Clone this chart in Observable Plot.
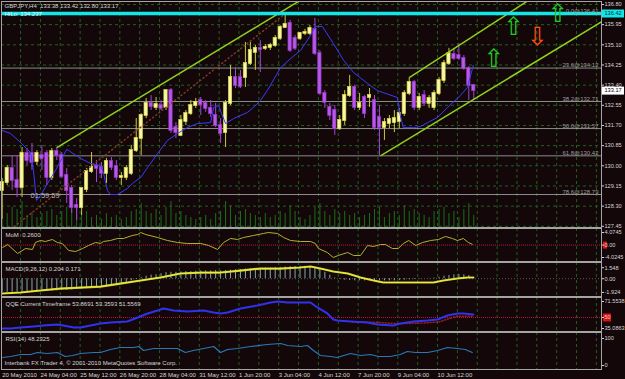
<!DOCTYPE html>
<html>
<head>
<meta charset="utf-8">
<script src="https://cdn.jsdelivr.net/npm/d3@7"></script>
<script src="https://cdn.jsdelivr.net/npm/@observablehq/plot@0.6"></script>
<style>
html,body{margin:0;padding:0;background:#130709;}
#chart{position:relative;width:625px;height:379px;background:#130709;overflow:hidden;}
#chart svg{position:absolute;left:0;}
</style>
</head>
<body>
<div id="chart"></div>
<script>
// ================= DATA =================
const symbolTitle = "GBPJPY,H4";
const lastQuote = [133.38, 133.42, 132.80, 133.17];
const hiloText = "HiLo: 134.237";
const timerText = "01:59:59";
const timerPos = [5.7, 128.75];

const opens  = [128.96,129.29,129.89,129.38,129.08,130.52,130.52,130.18,130.43,130.52,
                129.51,130.60,130.43,129.59,129.04,128.33,128.24,129.00,129.76,129.97,
                129.93,129.68,130.18,129.97,129.51,129.51,129.68,130.64,131.15,132.12,
                132.63,132.46,132.54,132.46,133.17,131.61,131.28,131.87,132.20,132.54,
                132.75,132.63,132.42,132.12,131.70,131.40,132.63,133.72,133.72,133.72,
                134.31,134.78,134.95,134.95,134.99,135.07,135.37,135.83,136.00,135.37,
                135.37,135.58,135.58,135.75,134.73,133.05,132.46,132.33,131.57,131.91,
                132.96,133.30,132.46,132.88,132.88,132.75,132.04,131.61,131.78,131.82,
                131.87,132.20,133.05,133.51,132.46,132.96,132.63,132.46,133.05,133.60,
                134.31,134.69,134.65,134.52,134.10,133.38];
const highs  = [129.46,130.01,130.43,130.43,130.77,130.73,130.94,130.64,130.86,130.64,
                130.73,130.77,130.56,129.89,129.17,128.62,129.04,129.89,130.56,130.22,
                130.14,130.31,130.35,130.22,129.72,130.01,130.86,131.99,132.20,132.84,
                132.96,132.88,132.75,133.17,133.26,131.82,132.12,132.33,132.75,132.84,
                132.88,132.75,132.75,132.63,131.99,132.75,134.23,134.14,134.02,135.20,
                135.20,135.07,135.28,135.11,135.16,135.49,135.91,136.42,136.13,135.49,
                135.62,135.75,135.91,136.21,134.86,133.17,132.63,132.54,132.12,133.17,
                133.81,133.39,133.05,132.96,133.26,132.96,132.54,131.99,132.12,132.33,
                132.42,133.17,133.72,133.60,133.05,133.17,132.96,133.17,133.72,134.44,
                134.95,134.95,135.16,134.65,134.18,133.42];
const lows   = [127.75,129.17,128.96,128.66,128.66,130.01,129.80,130.01,129.80,129.17,
                129.38,130.22,129.46,128.41,127.99,127.69,127.90,128.87,129.68,129.29,
                129.46,129.25,129.80,129.38,129.17,129.38,129.59,130.56,130.43,131.99,
                132.33,132.33,132.33,132.33,131.36,131.15,131.23,131.70,132.12,132.42,
                132.12,132.25,132.04,131.61,130.94,130.77,132.54,133.26,133.26,133.30,
                134.23,134.02,133.93,134.86,134.86,134.99,135.28,135.79,134.78,134.86,
                135.28,135.49,135.49,134.65,132.96,132.42,131.91,131.28,131.49,131.70,
                132.88,132.33,132.33,131.99,132.46,131.49,130.42,131.07,131.57,131.40,
                131.57,132.08,132.96,132.33,132.33,132.50,132.42,132.33,132.96,133.47,
                134.23,134.44,134.44,134.02,132.75,132.80];
const closes = [129.29,129.89,129.38,129.08,130.52,130.22,130.14,130.52,130.31,129.51,
                130.60,130.43,129.55,128.96,128.24,128.24,129.04,129.76,129.93,129.89,
                129.68,130.18,129.93,129.51,129.55,129.89,130.64,131.15,132.12,132.63,
                132.50,132.58,132.42,133.17,131.49,131.40,131.91,132.20,132.54,132.67,
                132.58,132.42,132.20,131.70,131.36,132.63,133.72,133.39,133.34,134.31,
                134.86,134.95,134.90,134.99,135.07,135.37,135.83,135.96,134.86,134.95,
                135.58,135.62,135.79,134.73,133.05,132.67,132.12,131.57,131.91,132.96,
                133.30,132.46,132.63,132.20,132.96,131.61,131.61,131.82,131.95,131.99,
                132.20,133.05,133.51,132.46,132.88,132.63,132.84,133.05,133.60,134.31,
                134.73,134.52,134.52,134.10,133.39,133.17];
const volumes = [1000,1400,2000,1800,2600,1200,1500,1000,1400,1600,
                 1800,1200,1600,2000,1800,2200,1400,1600,1000,1200,
                 800,1400,1000,1200,800,1000,1600,1800,2400,1600,
                 1400,1800,1200,2000,2600,1400,1600,1200,1000,800,
                 1000,1200,800,1400,1600,2600,2200,1200,1600,1800,
                 1400,1200,1000,1400,1000,1200,1600,1400,2200,1600,
                 1000,800,1200,2000,2400,1600,1200,1800,1400,1600,
                 1200,1400,1000,1200,1400,1800,2000,1000,1400,1600,
                 1200,2200,1600,1800,1400,1200,1000,1600,1800,2000,
                 1400,1600,1000,1800,2400,1200];
// blue moving average: [bar, price]
const maPoints = [[0,131.49],[1.7,131.36],[3.7,130.98],[5.7,130.56],[6.3,129.80],[6.9,128.54],[7.7,128.75],
  [10.7,129.80],[13.0,130.69],[13.4,130.64],[15.8,130.31],[17.8,130.10],[19.8,130.01],[20.4,129.72],
  [21.2,128.96],[21.8,128.79],[23.2,128.79],[25.2,129.04],[26.5,129.30],[27.9,129.51],[29.3,129.93],
  [31.3,130.52],[33.3,131.07],[35.3,131.36],[37.3,131.61],[39.3,131.78],[42.0,131.82],[42.6,132.46],
  [43.6,132.54],[44.2,132.20],[45.0,131.78],[46.6,131.99],[49.4,132.25],[50.6,132.46],[52.0,132.75],
  [53.4,133.17],[56.1,134.14],[58.1,134.52],[60.1,134.86],[62.1,135.49],[63.1,135.87],[64.5,135.87],
  [66.7,135.16],[68.8,134.44],[70.8,133.93],[73.6,133.47],[75.6,133.17],[79.6,132.88],[80.2,132.12],
  [80.8,131.61],[82.9,131.61],[84.3,131.66],[85.7,131.82],[87.7,132.04],[89.7,132.46],[92.3,132.96],
  [93.7,133.30],[94.9,134.23]];

const priceTicks = [136.80,135.95,135.10,134.25,133.40,132.55,131.70,130.85,130.00,129.15,128.30,127.45];
const fibLevels = ["0.0","23.6","38.2","50.0","61.8","78.6"];
const fibPrices = [136.41,134.12,132.71,131.57,130.42,128.79];
const fibAnchors = [{bar:-2, price:126.71},{bar:57, price:136.41}];
const hLinePrice = 136.42;
const trendLines = [
  {x1:11,   y1:130.77, x2:59.7,   y2:136.93},
  {x1:82,   y1:133.72, x2:105.7,  y2:136.93},
  {x1:76.2, y1:130.42, x2:120.73, y2:136.07}
];
const arrowBars = [99.0, 103.0, 107.8, 111.9];
const arrowPrices = [134.52, 135.83, 135.41, 136.38];
const arrowDirs = ["up","up","down","up"];

const xLabels = ["20 May 2010","24 May 04:00","25 May 12:00","26 May 20:00","28 May 04:00","31 May 12:00",
                 "1 Jun 20:00","3 Jun 04:00","4 Jun 12:00","7 Jun 20:00","9 Jun 04:00","10 Jun 12:00"];
const xLabelBars = [0,7.7,15.7,23.7,31.7,39.7,47.7,55.7,63.7,71.7,79.7,87.7];

// Momentum
const momTitle = "MoM\u00a0\u00a00.2600";
const momPoints = [[0.1,-0.78],[1.1,0.19],[3.1,-2.73],[4.7,-1.11],[6.1,-1.43],[6.7,0.84],[7.7,1.48],[8.7,1.16],
  [10.1,1.81],[11.1,0.84],[12.1,0.51],[13.4,-1.76],[14.8,-2.08],[16.2,-1.11],[17.4,-0.14],[18.8,0.84],
  [19.8,0.51],[20.4,1.16],[21.8,1.48],[23.2,2.13],[24.4,2.13],[26.2,3.10],[27.3,3.43],[27.9,4.07],
  [28.9,3.43],[31.3,2.45],[33.3,1.48],[35.3,0.84],[37.3,0.51],[40.0,0.51],[41.6,-0.14],[43.4,-1.43],
  [44.6,0.84],[46.0,2.13],[47.4,1.81],[48.6,2.45],[50.6,3.10],[52.6,3.75],[53.6,4.07],[55.5,3.75],
  [56.7,2.45],[58.1,1.48],[60.1,1.16],[62.1,1.16],[63.1,0.51],[63.7,-1.11],[65.5,-2.40],[66.7,-4.02],
  [67.7,-3.37],[69.6,-2.40],[70.8,-3.37],[72.2,-3.37],[73.6,-0.14],[74.8,-0.46],[76.2,0.19],[77.2,0.19],
  [78.6,-1.11],[79.8,-1.11],[80.8,0.51],[81.9,1.48],[83.3,-0.14],[84.7,0.84],[86.3,1.48],[87.9,1.81],
  [89.3,2.78],[90.7,2.13],[91.7,1.48],[92.9,2.13],[93.9,0.84],[94.7,0.26]];
const momTicks = [4.0745, 0, -4.0245];
const momTickLabels = ["4.0745","0.00","-4.0245"];

// MACD
const macdTitle = "MACD(9,26,12) 0.204 0.171";
const macdMain = [-1.92,-1.92,-1.9,-1.9,-1.88,-1.86,-1.84,-1.8,
  -1.76,-1.74,-1.72,-1.7,-1.66,-1.62,-1.58,-1.52,
  -1.46,-1.4,-1.34,-1.28,-1.2,-1.12,-1.02,-0.9,
  -0.7,-0.5,-0.3,-0.1,0.15,0.35,0.5,0.55,
  0.7,0.85,0.9,0.9,0.95,1.0,1.0,1.05,
  1.1,1.1,1.1,1.15,1.1,1.15,1.2,1.25,
  1.3,1.35,1.4,1.4,1.45,1.5,1.5,1.55,
  1.6,1.65,1.7,1.7,1.75,1.75,1.7,1.6,
  1.3,0.9,0.5,0.1,-0.1,-0.2,-0.25,-0.3,
  -0.3,-0.3,-0.3,-0.3,-0.3,-0.3,-0.3,-0.3,
  -0.25,-0.2,-0.15,-0.1,-0.05,0.0,0.05,0.1,
  0.2,0.35,0.45,0.55,0.6,0.55,0.45,0.204];
const macdSignal = [[0,-2.08],[3.7,-1.94],[7.7,-1.66],[11.7,-1.38],[15.8,-1.24],[19.8,-1.10],[23.8,-0.68],
  [27.9,-0.25],[31.9,0.17],[35.9,0.73],[40,0.87],[44,0.87],[48,1.15],[52,1.43],[56,1.43],[60,1.58],
  [62.1,1.72],[64.1,1.43],[66.7,1.01],[69.6,0.73],[72.2,0.17],[74.8,-0.25],[76.8,-0.53],[80.2,-0.53],
  [84.3,-0.53],[86.9,-0.53],[88.9,-0.25],[91.7,0.03],[93.7,0.17],[94.9,0.171]];
const macdTicks = [1.548, 0, -1.924];
const macdTickLabels = ["1.548","0.00","-1.924"];

// QQE
const qqeTitle = "QQE Current Timeframe 53.8691 53.3593 51.5569";
const qqePoints = [[0.1,35.1],[1.7,35.1],[3.7,36.4],[6.3,37.8],[8.3,39.1],[11.1,40.5],[12.3,39.1],[14.4,36.4],
  [15.8,36.4],[17.8,39.1],[19.8,41.8],[21.8,43.2],[25.2,44.5],[27.3,49.9],[29.3,55.4],[31.3,59.4],
  [32.5,62.1],[34.5,59.4],[37.3,58.1],[40.6,59.4],[42.6,56.7],[44.0,55.4],[45.4,56.7],[48.0,62.1],
  [51.4,66.2],[54.1,70.2],[55.5,71.55],[57.5,70.2],[60.1,70.2],[62.1,70.2],[63.5,63.5],[65.5,55.4],
  [66.7,47.2],[67.5,45.9],[70.2,44.5],[73.6,43.2],[75.6,40.5],[78.8,39.1],[80.2,41.8],[82.9,44.5],
  [85.7,45.9],[87.7,47.2],[89.7,52.6],[91.7,55.4],[92.9,55.4],[94.9,53.87]];
const qqeSlow = [[70.5,44.0],[75,43.5],[80,41.5],[85,42.5],[88,44],[91.5,51.5],[94.9,51.56]];
const qqeTicks = [71.5538, 50, 35.0863];
const qqeTickLabels = ["71.5538","50","35.0863"];

// RSI
const rsiTitle = "RSI(14) 48.2325";
const rsiPoints = [[0.1,29.6],[1.7,33.3],[3.7,40.7],[5.7,40.7],[7.1,48.1],[9.1,44.4],[11.1,48.1],[12.7,33.3],
  [14.2,37.0],[15.8,44.4],[18.4,48.1],[19.8,48.1],[21.8,59.3],[23.8,66.7],[26.5,66.7],[27.5,70.4],
  [28.5,55.6],[30.5,63.0],[35.3,63.0],[36.9,48.1],[38.5,55.6],[40.6,63.0],[42.6,70.4],[44.0,48.1],
  [45.4,59.3],[47.4,63.0],[50.0,70.4],[53.4,77.8],[56.1,81.5],[57.5,74.1],[60.1,70.4],[61.5,74.1],
  [62.7,55.6],[64.1,37.0],[66.1,33.3],[67.5,29.6],[68.8,37.0],[70.2,44.4],[72.2,37.0],[74.2,40.7],
  [75.8,33.3],[78.2,33.3],[80.2,40.7],[81.6,51.9],[83.3,48.1],[85.7,48.1],[87.7,55.6],[89.7,66.7],
  [91.7,63.0],[93.3,59.3],[94.7,48.2]];
const rsiTicks = [100, 0];
const copyrightText = "Interbank FX Trader 4, \u00a9 2001-2010 MetaQuotes Software Corp.";

// ================= DRAWING =================
const chart = document.getElementById("chart");
const FONT = "'Liberation Sans', Arial, sans-serif";
const GRID = "#225f22";
const FRAME = "#a4a4a4";
const TXT = "#d6d6d6";
const xDomain = [-0.141, 120.73];
const gridBars = d3.range(3.7, 121, 4);
const bars = d3.range(opens.length);
const candles = bars.map(i => ({i, o: opens[i], h: highs[i], l: lows[i], c: closes[i], up: closes[i] >= opens[i]}));
const style = {background: "transparent", color: TXT, fontFamily: FONT, fontSize: "6px", overflow: "visible"};

function place(svg, top) {
  svg.style.position = "absolute";
  svg.style.top = top + "px";
  svg.style.left = "0px";
  chart.appendChild(svg);
}
function title(t, dy) {
  return Plot.text([t], {text: d => d, frameAnchor: "top-left", dx: 4, dy, textAnchor: "start", lineAnchor: "middle", fill: TXT});
}
function vgrid() {
  return Plot.ruleX(gridBars, {stroke: GRID, strokeDasharray: "3,3"});
}
function rightAxis(ticks, labels) {
  return Plot.axisY(ticks, {anchor: "right", tickSize: 2, tickPadding: 1, fontSize: 5.6,
    tickFormat: d => labels[ticks.indexOf(d)], color: TXT});
}

// ---- volume (underlay of main window) ----
place(Plot.plot({
  width: 625, height: 228, marginTop: 1, marginBottom: 1, marginLeft: 1, marginRight: 24,
  x: {domain: xDomain, axis: null}, y: {domain: [0, 22600], axis: null}, style,
  marks: [Plot.ruleX(bars, {x: d => d, y1: 0, y2: d => volumes[d], stroke: "#197019"})]
}), 0);

// ---- main price window ----
const fibs = fibPrices.map((p, k) => ({p, label: fibLevels[k] + "@" + p.toFixed(2)}));
const arrows = arrowBars.map((b, k) => ({bar: b, price: arrowPrices[k], dir: arrowDirs[k]}));
place(Plot.plot({
  width: 625, height: 228, marginTop: 1, marginBottom: 1, marginLeft: 1, marginRight: 24,
  x: {domain: xDomain, axis: null}, y: {domain: [127.399, 136.926], axis: null}, style,
  marks: [
    Plot.ruleY(priceTicks, {stroke: GRID, strokeDasharray: "3,3"}),
    vgrid(),
    Plot.ruleY(fibPrices, {stroke: "#8c8c8c"}),
    Plot.ruleX(candles, {x: "i", y1: "l", y2: "h", stroke: d => d.up ? "#c9c93c" : "#a445d6"}),
    Plot.rect(candles, {x1: d => d.i - 0.33, x2: d => d.i + 0.33, y1: "o", y2: "c", insetTop: -0.5, insetBottom: -0.5,
      fill: d => d.up ? "#f6f6b0" : "#b65ae6", stroke: d => d.up ? "#dede3a" : "#9b35d2", strokeWidth: 0.7}),
    Plot.line(maPoints, {x: d => d[0], y: d => d[1], stroke: "#3b3bff", strokeWidth: 1}),
    Plot.line(fibAnchors, {x: "bar", y: "price", stroke: "#7e3a26", strokeDasharray: "1,3", clip: true}),
    Plot.link(trendLines, {x1: "x1", y1: "y1", x2: "x2", y2: "y2", stroke: "#8ed11c", strokeWidth: 1.5, clip: true}),
    Plot.ruleY([hLinePrice], {stroke: "#12e6e6", strokeWidth: 3.5}),
    Plot.text(fibs, {y: "p", text: "label", frameAnchor: "right", textAnchor: "end", lineAnchor: "bottom", dx: -3, dy: -1, fill: "#9c9c9c"}),
    Plot.text([symbolTitle + "\u00a0\u00a0" + lastQuote.map(v => v.toFixed(2)).join(" ")], {text: d => d, frameAnchor: "top-left", dx: 3, dy: 5, textAnchor: "start", lineAnchor: "middle", fill: TXT}),
    Plot.text([hiloText], {text: d => d, frameAnchor: "top-left", dx: 3, dy: 12.5, textAnchor: "start", lineAnchor: "middle", fill: "#e6ffff"}),
    Plot.text([timerText], {x: () => timerPos[0], y: () => timerPos[1], text: d => d, textAnchor: "start", fill: "#b4b4b4", fontSize: 7.5}),
    Plot.text(arrows, {x: "bar", y: "price", text: d => d.dir === "up" ? "\u21e7" : "\u21e9", fill: d => d.dir === "up" ? "#22cc22" : "#ff5212", fontSize: 25, fontFamily: "DejaVu Sans", lineAnchor: "middle"}),
    Plot.frame({stroke: FRAME}),
    rightAxis(priceTicks, priceTicks.map(d => d.toFixed(2))),
    Plot.ruleY([hLinePrice], {stroke: "#12e6e6", strokeWidth: 8, insetLeft: 601, insetRight: -23}),
    Plot.text([hLinePrice], {y: d => d, text: d => d.toFixed(2), frameAnchor: "right", dx: 3, textAnchor: "start", fill: "#002a2a", fontSize: 5.6}),
    Plot.ruleY([lastQuote[3]], {stroke: "#ffffff", strokeWidth: 8, insetLeft: 601, insetRight: -23}),
    Plot.text([lastQuote[3]], {y: d => d, text: d => d.toFixed(2), frameAnchor: "right", dx: 3, textAnchor: "start", fill: "#000000", fontSize: 5.6})
  ]
}), 0);

// ---- Momentum window ----
place(Plot.plot({
  width: 625, height: 34, marginTop: 0, marginBottom: 1, marginLeft: 1, marginRight: 24,
  x: {domain: xDomain, axis: null}, y: {domain: [-5.32, 5.37], axis: null}, style,
  marks: [
    vgrid(),
    Plot.ruleY([0], {stroke: "#c0143c", strokeDasharray: "1,1"}),
    Plot.line(momPoints, {x: d => d[0], y: d => d[1], stroke: "#b2b232", strokeWidth: 1}),
    title(momTitle, 7),
    Plot.frame({stroke: FRAME}),
    Plot.ruleY([0], {stroke: "#e01010", strokeWidth: 7, insetLeft: 602, insetRight: -6}),
    rightAxis(momTicks, momTickLabels)
  ]
}), 228);

// ---- MACD window ----
place(Plot.plot({
  width: 625, height: 35, marginTop: 0, marginBottom: 1, marginLeft: 1, marginRight: 24,
  x: {domain: xDomain, axis: null}, y: {domain: [-2.50, 2.28], axis: null}, style,
  marks: [
    vgrid(),
    Plot.ruleY([0], {stroke: "#5a5a5a", strokeDasharray: "1,2"}),
    Plot.ruleX(bars, {x: d => d, y1: 0, y2: d => macdMain[d], stroke: "#86aaa8"}),
    Plot.line(macdSignal, {x: d => d[0], y: d => d[1], stroke: "#d2d214", strokeWidth: 2.2}),
    Plot.line(macdSignal, {x: d => d[0], y: d => d[1], stroke: "#eef27a", strokeWidth: 0.7}),
    title(macdTitle, 7),
    Plot.frame({stroke: FRAME}),
    rightAxis(macdTicks, macdTickLabels)
  ]
}), 262);

// ---- QQE window ----
place(Plot.plot({
  width: 625, height: 35, marginTop: 0, marginBottom: 1, marginLeft: 1, marginRight: 24,
  x: {domain: xDomain, axis: null}, y: {domain: [31.04, 76.96], axis: null}, style,
  marks: [
    vgrid(),
    Plot.ruleY([50], {stroke: "#c0143c", strokeDasharray: "1,1"}),
    Plot.line(qqeSlow, {x: d => d[0], y: d => d[1], stroke: "#a02020", strokeDasharray: "1,2"}),
    Plot.line(qqePoints, {x: d => d[0], y: d => d[1], stroke: "#3232ee", strokeWidth: 2}),
    title(qqeTitle, 7),
    Plot.frame({stroke: FRAME}),
    Plot.ruleY([50], {stroke: "#e01010", strokeWidth: 8, insetLeft: 602, insetRight: -10}),
    rightAxis(qqeTicks, qqeTickLabels)
  ]
}), 297);

// ---- RSI window + time axis ----
place(Plot.plot({
  width: 625, height: 47, marginTop: 0, marginBottom: 10, marginLeft: 1, marginRight: 24,
  x: {domain: xDomain, axis: null}, y: {domain: [-14.8, 122.2], axis: null}, style,
  marks: [
    vgrid(),
    Plot.line(rsiPoints, {x: d => d[0], y: d => d[1], stroke: "#2a79b6", strokeWidth: 1.2}),
    title(rsiTitle, 7),
    Plot.text([copyrightText], {text: d => d, frameAnchor: "bottom-left", dx: 3, dy: -6, textAnchor: "start", lineAnchor: "middle", fill: TXT}),
    Plot.frame({stroke: FRAME}),
    rightAxis(rsiTicks, ["100", "0"]),
    Plot.text(xLabelBars, {x: d => d, text: (d, k) => xLabels[k], frameAnchor: "bottom", dy: 6, dx: 0, textAnchor: "start", lineAnchor: "middle", fill: TXT})
  ]
}), 332);
</script>
</body>
</html>
